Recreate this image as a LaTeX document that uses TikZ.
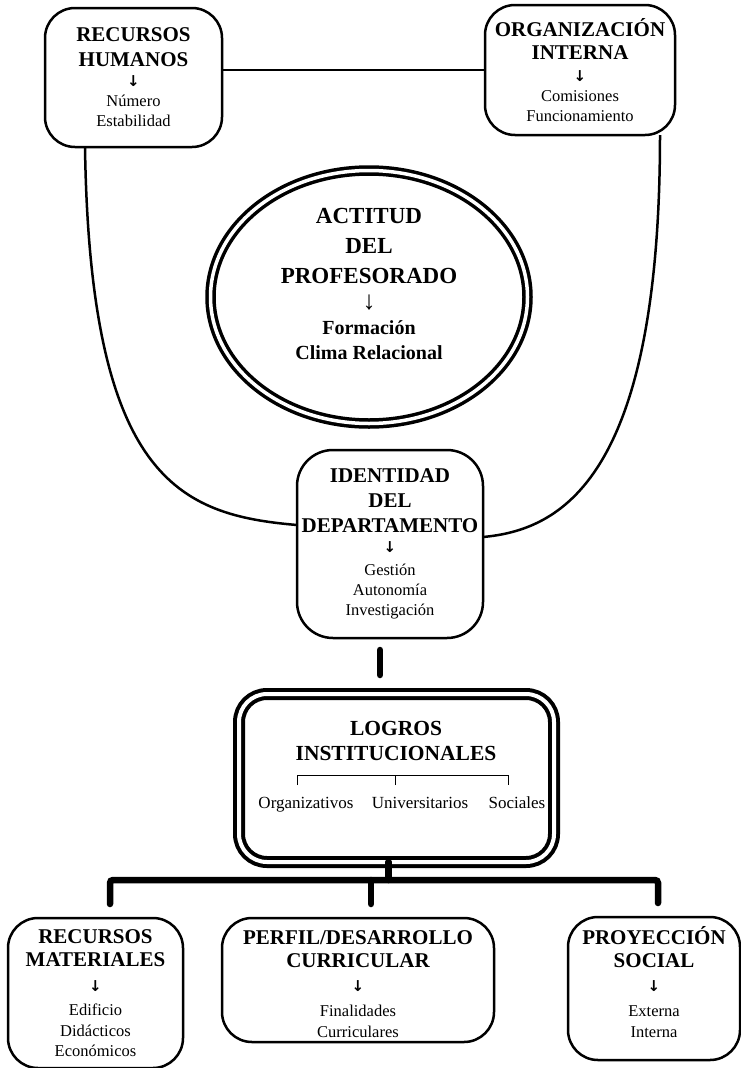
\documentclass[tikz,border=0pt]{standalone}
\usepackage{fontspec}
\setmainfont{Liberation Serif}
\newfontfamily\flechafont{DejaVu Sans}
\usepackage{tikz}
\usetikzlibrary{
	arrows.meta, shapes.geometric, positioning, calc
}
\newcommand{\tit}{\fontsize{21}{25}\selectfont\bfseries}
\newcommand{\titg}{\fontsize{23}{28}\selectfont\bfseries}
\newcommand{\subt}{\fontsize{16.5}{20}\selectfont}
\newcommand{\flecha}{{\flechafont\fontsize{15}{20}\selectfont\bfseries ↓}}
\tikzset{
	caja/.style={draw, line width=2.5pt, rounded corners=30pt, align=center, inner sep=0pt, outer sep=0pt, font=\subt},
	doble/.style={draw, line width=3.5pt, double=white, double distance=3.5pt, inner sep=0pt, outer sep=0pt},
	linea/.style={line width=2.5pt},
	llave/.style={line width=1pt},
	logro/.style={font=\fontsize{17}{20}\selectfont, anchor=base},
	conexion/.style={line width=6.5pt, line cap=round}
}

\begin{document}
\begin{tikzpicture}[x=1pt,y=-1pt]
	\useasboundingbox (0,0) rectangle (741,1068);
	\node[caja, minimum width=177pt, minimum height=139pt] (rh) at (133.5,77.5)
		{\tit RECURSOS\\[5pt] \tit HUMANOS\\ \flecha\\ \subt Número\\ \subt Estabilidad};
	\node[caja, minimum width=190pt, minimum height=130pt] (oi) at (580,70)
		{\tit ORGANIZACIÓN\\[3pt] \tit INTERNA\\[2pt] \flecha\\ \subt Comisiones\\ \subt Funcionamiento};
	\node[doble, ellipse, align=center, font=\subt, minimum width=317pt, minimum height=253pt] (ap) at (369,297)
		{\titg ACTITUD\\[10pt] \titg DEL\\[10pt] \titg PROFESORADO\\[6pt] {\fontsize{26}{20}\selectfont ↓}\\[5pt]
		 \fontsize{20}{20}\selectfont\bfseries Formación\\[5pt] \fontsize{20}{20}\selectfont\bfseries Clima Relacional\rule[-26pt]{0pt}{0pt}};
	\node[caja, rounded corners=36pt, minimum width=186pt, minimum height=188pt] (id) at (390,544)
		{\tit IDENTIDAD\\[5pt] \tit DEL\\[5pt] \tit DEPARTAMENTO\\ \flecha\\[3pt] \subt Gestión\\ \subt Autonomía\\ \subt Investigación};

	\draw[linea] (oi.west) -- (oi.west -| rh.east);
	\draw[linea] ([xshift=40pt]rh.south west) .. controls (90,480) and (180,515) .. ([yshift=19pt]id.west);
	\draw[linea] ([xshift=-15pt]oi.south east) .. controls (660,480) and (560,530) .. ([yshift=7pt]id.east);

	% logros
	\node[doble, line width=4pt, double distance=4pt, rounded corners=28pt, minimum width=315pt, minimum height=168pt] (lg) at (396.5,778) {};
	\node[align=center, font=\fontsize{21.5}{25}\selectfont\bfseries] (lgt) at (396,741) {LOGROS\\ INSTITUCIONALES};
	\node[logro] (org) at (306,808) {Organizativos};
	\node[logro] (uni) at (420,808) {Universitarios};
	\node[logro] (soc) at (517,808) {Sociales};
	\draw[llave] ([xshift=-9pt,yshift=8pt]org.north) -- ++(0,-10) -| ([xshift=-9pt,yshift=8pt]soc.north);
	\draw[llave] ([xshift=-25pt,yshift=8pt]uni.north) -- ++(0,-10);

	\node[caja, minimum width=175pt, minimum height=150pt] (rm) at (95.5,993)
		{\tit RECURSOS\\[3pt] \tit MATERIALES\\[5pt] \flecha\\[4pt] \subt Edificio\\[1pt] \subt Didácticos\\ \subt Económicos};
	\node[caja, minimum width=272pt, minimum height=124pt] (pc) at (358,980)
		{\tit\rule{0pt}{22pt}PERFIL/DESARROLLO\\[3pt] \tit CURRICULAR\\[4pt] \flecha\\[5pt] \subt Finalidades\\[1pt] \subt Curriculares};
	\node[caja, minimum width=172pt, minimum height=143pt] (py) at (654,988.5)
		{\tit PROYECCIÓN\\[3pt] \tit SOCIAL\\[4pt] \flecha\\[5pt] \subt Externa\\[1pt] \subt Interna\rule[-14pt]{0pt}{0pt}};

	\coordinate (barra) at (0,880);
	\draw[conexion, shorten <=12pt, shorten >=19pt] ([xshift=-10pt]id.south) -- ([xshift=-10pt]id.south |- lg.north);
	\draw[conexion] ([xshift=-8pt]lg.south) -- ([xshift=-8pt]lg.south |- barra);
	\draw[conexion, rounded corners=3pt, shorten <=14pt, shorten >=14pt] ([xshift=14.5pt]rm.north) -- ([xshift=14.5pt]rm.north |- barra) -| ([xshift=4pt]py.north);
	\draw[conexion, shorten <=14pt] ([xshift=13pt]pc.north) -- ([xshift=13pt]pc.north |- barra);
\end{tikzpicture}
\end{document}
